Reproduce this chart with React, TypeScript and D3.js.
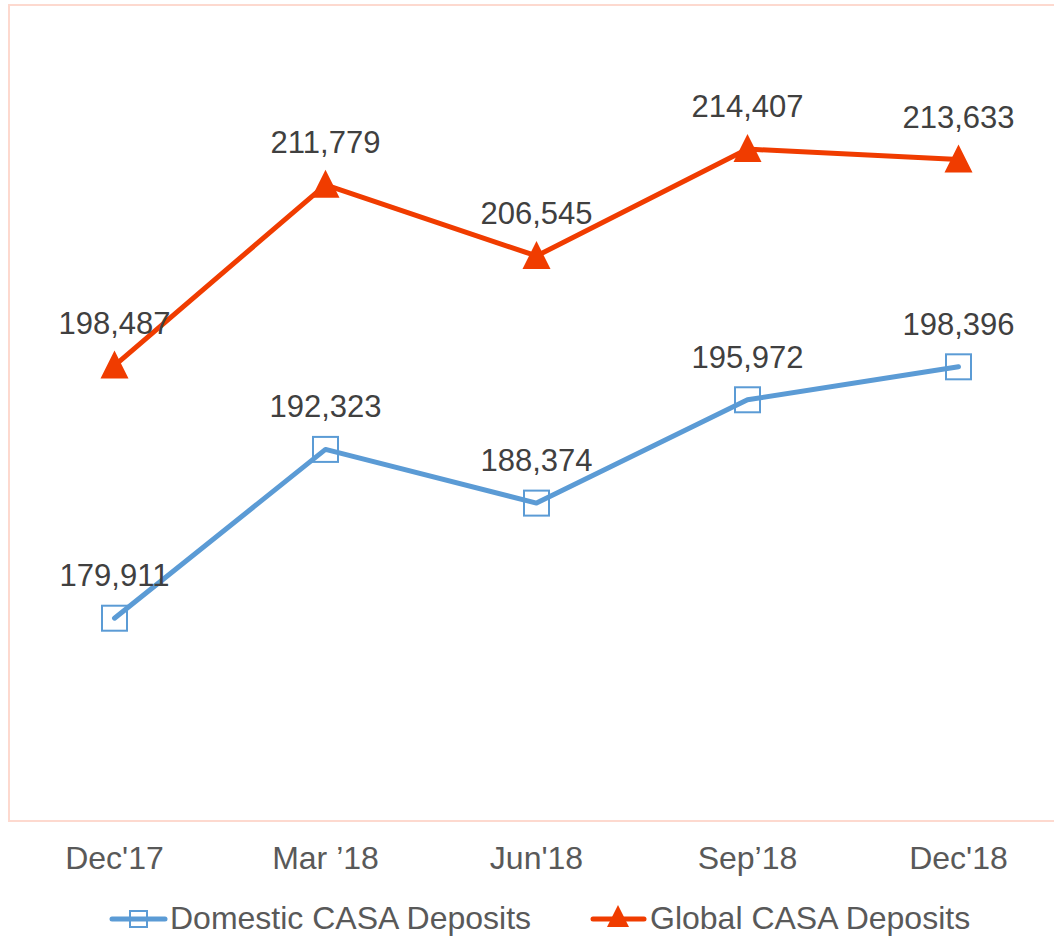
import React from "react";
import * as d3 from "d3";

const categories = ["Dec'17", "Mar \u201918", "Jun'18", "Sep\u201918", "Dec'18"];
const domestic = [179911, 192323, 188374, 195972, 198396];
const global = [198487, 211779, 206545, 214407, 213633];
const seriesNames = ["Domestic CASA Deposits", "Global CASA Deposits"];

const W = 1054;
const H = 939;
const BLUE = "#5B9BD5";
const RED = "#F03C00";
const FONT = "'Liberation Sans', Arial, sans-serif";

function triPath(w: number, h: number) {
  const p = d3.path();
  p.moveTo(0, -h / 2);
  p.lineTo(w / 2, h / 2);
  p.lineTo(-w / 2, h / 2);
  p.closePath();
  return p.toString();
}

export default function App() {
  const x = d3.scaleBand<string>().domain(categories).range([9, 1064]);
  const cx = (c: string) => (x(c) as number) + x.bandwidth() / 2;
  const y = d3.scaleLinear().domain([165000, 225000]).range([821, 5]);
  const line = d3
    .line<number>()
    .x((_, i) => cx(categories[i]))
    .y((d) => y(d));
  const fmt = d3.format(",");
  const tri = triPath(28, 28);

  return (
    <svg
      width={W}
      height={H}
      style={{ position: "absolute", left: 0, top: 0, background: "#fff" }}
      fontFamily={FONT}
    >
      <rect x={9} y={5} width={1064 - 9} height={821 - 5} fill="none" stroke="#FDD9CF" strokeWidth={2} />
      {/* Domestic */}
      <path d={line(domestic) || ""} fill="none" stroke={BLUE} strokeWidth={5} strokeLinecap="round" strokeLinejoin="round" />
      {domestic.map((v, i) => (
        <rect key={"dm" + i} x={cx(categories[i]) - 12.5} y={y(v) - 12.5} width={25} height={25} fill="none" stroke={BLUE} strokeWidth={2} />
      ))}
      {/* Global */}
      <path d={line(global) || ""} fill="none" stroke={RED} strokeWidth={5} strokeLinecap="round" strokeLinejoin="round" />
      {global.map((v, i) => (
        <path key={"gm" + i} d={tri} transform={`translate(${cx(categories[i])},${y(v) - 1})`} fill={RED} />
      ))}
      {/* Labels */}
      {domestic.map((v, i) => (
        <text key={"dl" + i} x={cx(categories[i])} y={y(v) - 32} textAnchor="middle" fontSize={31} fill="#404040">
          {fmt(v)}
        </text>
      ))}
      {global.map((v, i) => (
        <text key={"gl" + i} x={cx(categories[i])} y={y(v) - 32} textAnchor="middle" fontSize={31} fill="#404040">
          {fmt(v)}
        </text>
      ))}
      {/* X axis labels */}
      {categories.map((c) => (
        <text key={c} x={cx(c)} y={869} textAnchor="middle" fontSize={32} fill="#595959">
          {c}
        </text>
      ))}
      {/* Legend */}
      <g>
        <line x1={112} x2={165} y1={919} y2={919} stroke={BLUE} strokeWidth={5} strokeLinecap="round" />
        <rect x={130} y={911} width={17} height={16} fill="#fff" stroke={BLUE} strokeWidth={2} />
        <line x1={130} x2={147} y1={919} y2={919} stroke={BLUE} strokeWidth={5} />
        <text x={170} y={929} fontSize={32} fill="#595959">{seriesNames[0]}</text>
        <line x1={593} x2={644} y1={919} y2={919} stroke={RED} strokeWidth={5} strokeLinecap="round" />
        <path d={triPath(22, 22)} transform="translate(618,916)" fill={RED} />
        <text x={650} y={929} fontSize={32} fill="#595959">{seriesNames[1]}</text>
      </g>
    </svg>
  );
}
